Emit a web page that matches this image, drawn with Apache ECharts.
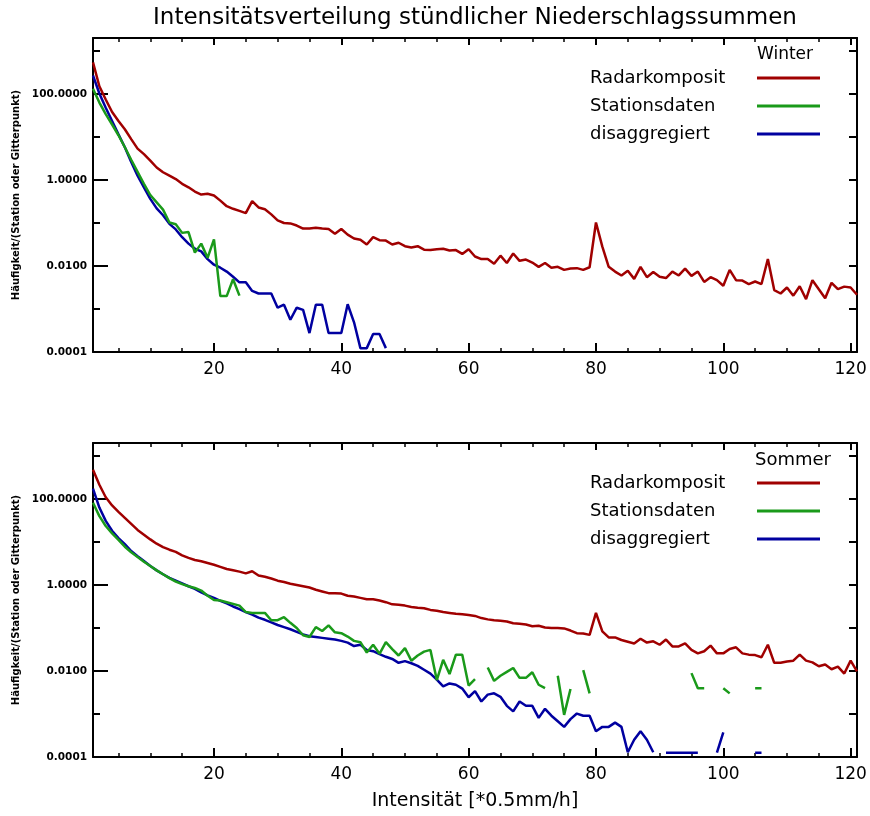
<!DOCTYPE html>
<html>
<head>
<meta charset="utf-8">
<title>Intensitätsverteilung stündlicher Niederschlagssummen</title>
<script src="https://cdn.jsdelivr.net/npm/echarts@6/dist/echarts.min.js"></script>
<style>
  html, body { margin: 0; padding: 0; background: #fff; }
  #main { width: 870px; height: 816px; }
</style>
</head>
<body>
<div id="main"></div>
<script>
var FONT = 'DejaVu Sans';

// Intensitätsklassen 1..121 (Einheit 0.5 mm/h)
var intensity = Array.from({ length: 121 }, function (_, i) { return i + 1; });
var xTicks = [20, 40, 60, 80, 100, 120];
var xMinorTicks = [5, 10, 15, 20, 25, 30, 35, 40, 45, 50, 55, 60, 65, 70, 75, 80, 85, 90, 95, 100, 105, 110, 115, 120];
var yTickLabels = [0.0001, 0.01, 1, 100];
var names = ['Radarkomposit', 'Stationsdaten', 'disaggregiert'];
var colors = ['#a00000', '#1a9a1a', '#0000a0'];

// Werte als log10(Häufigkeit); null = keine Werte (Lücke)
var winterRadar = [
  2.735, 2.18, 1.87, 1.58, 1.37, 1.18, 0.95, 0.73, 0.60, 0.45,
  0.29, 0.18, 0.10, 0.02, -0.09, -0.17, -0.27, -0.34, -0.32, -0.36,
  -0.48, -0.61, -0.67, -0.72, -0.77, -0.49, -0.64, -0.68, -0.80, -0.94,
  -1.00, -1.01, -1.06, -1.13, -1.13, -1.11, -1.13, -1.14, -1.25, -1.14,
  -1.27, -1.36, -1.39, -1.50, -1.33, -1.40, -1.41, -1.50, -1.46, -1.54,
  -1.57, -1.54, -1.62, -1.63, -1.61, -1.60, -1.64, -1.63, -1.72, -1.61,
  -1.78, -1.84, -1.84, -1.95, -1.76, -1.93, -1.71, -1.88, -1.85, -1.92,
  -2.02, -1.93, -2.04, -2.02, -2.09, -2.06, -2.05, -2.09, -2.03, -0.99,
  -1.55, -2.02, -2.13, -2.22, -2.11, -2.30, -2.02, -2.26, -2.14, -2.25,
  -2.28, -2.13, -2.22, -2.06, -2.23, -2.13, -2.37, -2.26, -2.33, -2.46,
  -2.09, -2.33, -2.34, -2.42, -2.36, -2.42, -1.84, -2.56, -2.64, -2.50,
  -2.69, -2.47, -2.77, -2.33, -2.54, -2.75, -2.39, -2.54, -2.48, -2.50, -2.67
];
var winterStation = [
  2.12, 1.80, 1.53, 1.29, 1.04, 0.76, 0.47, 0.19, -0.09, -0.35,
  -0.52, -0.69, -0.99, -1.03, -1.23, -1.21, -1.69, -1.48, -1.81, -1.38,
  -2.70, -2.70, -2.31, -2.69
];
var winterDisagg = [
  2.43, 2.01, 1.68, 1.37, 1.06, 0.76, 0.42, 0.10, -0.17, -0.44,
  -0.66, -0.82, -1.02, -1.15, -1.33, -1.48, -1.60, -1.66, -1.84, -1.97,
  -2.04, -2.13, -2.25, -2.38, -2.38, -2.58, -2.64, -2.64, -2.64, -2.97,
  -2.90, -3.25, -2.97, -3.02, -3.56, -2.90, -2.90, -3.56, -3.56, -3.56,
  -2.89, -3.31, -3.91, -3.91, -3.58, -3.58, -3.91
];
var summerRadar = [
  2.68, 2.33, 2.04, 1.85, 1.70, 1.56, 1.42, 1.28, 1.17, 1.06,
  0.96, 0.88, 0.82, 0.77, 0.69, 0.63, 0.58, 0.55, 0.51, 0.47,
  0.42, 0.37, 0.34, 0.31, 0.27, 0.32, 0.22, 0.19, 0.15, 0.10,
  0.07, 0.03, 0.00, -0.03, -0.06, -0.11, -0.15, -0.19, -0.19, -0.20,
  -0.25, -0.27, -0.30, -0.33, -0.33, -0.36, -0.40, -0.45, -0.46, -0.48,
  -0.51, -0.53, -0.54, -0.58, -0.60, -0.63, -0.65, -0.67, -0.68, -0.70,
  -0.72, -0.77, -0.80, -0.82, -0.83, -0.85, -0.89, -0.90, -0.92, -0.96,
  -0.95, -0.99, -1.00, -1.00, -1.01, -1.06, -1.12, -1.13, -1.16, -0.65,
  -1.08, -1.22, -1.22, -1.28, -1.32, -1.36, -1.25, -1.34, -1.31, -1.39,
  -1.27, -1.43, -1.43, -1.36, -1.51, -1.59, -1.54, -1.41, -1.59, -1.59,
  -1.49, -1.45, -1.59, -1.62, -1.63, -1.68, -1.39, -1.81, -1.81, -1.78,
  -1.76, -1.62, -1.76, -1.80, -1.89, -1.85, -1.96, -1.90, -2.06, -1.76, -2.01
];
var summerStation = [
  1.91, 1.60, 1.37, 1.20, 1.05, 0.89, 0.76, 0.65, 0.54, 0.44,
  0.34, 0.25, 0.16, 0.08, 0.02, -0.03, -0.07, -0.13, -0.25, -0.35,
  -0.36, -0.40, -0.44, -0.48, -0.63, -0.65, -0.65, -0.65, -0.82, -0.82,
  -0.75, -0.88, -1.00, -1.17, -1.21, -0.98, -1.07, -0.94, -1.10, -1.12,
  -1.20, -1.30, -1.33, -1.57, -1.39, -1.60, -1.33, -1.49, -1.64, -1.47,
  -1.76, -1.64, -1.55, -1.51, -2.21, -1.74, -2.07, -1.62, -1.62, -2.34,
  -2.19, null, -1.92, -2.23, -2.11, -2.02, -1.93, -2.16, -2.16, -2.03,
  -2.32, -2.40, null, -2.11, -3.02, -2.42, null, -1.98, -2.52, null,
  null, null, null, null, null, null, null, null, null, null,
  null, null, null, null, -2.05, -2.40, -2.40, null, null, -2.40,
  -2.52, null, null, null, -2.40, -2.40
];
var summerDisagg = [
  2.24, 1.80, 1.49, 1.26, 1.09, 0.95, 0.79, 0.67, 0.555, 0.44,
  0.34, 0.25, 0.165, 0.10, 0.035, -0.03, -0.09, -0.17, -0.24, -0.30,
  -0.37, -0.43, -0.50, -0.56, -0.63, -0.69, -0.76, -0.81, -0.87, -0.93,
  -0.98, -1.03, -1.09, -1.15, -1.19, -1.21, -1.23, -1.25, -1.27, -1.30,
  -1.34, -1.42, -1.39, -1.51, -1.54, -1.61, -1.67, -1.72, -1.81, -1.77,
  -1.82, -1.88, -1.97, -2.06, -2.20, -2.36, -2.29, -2.32, -2.41, -2.61,
  -2.47, -2.71, -2.55, -2.52, -2.60, -2.81, -2.94, -2.71, -2.81, -2.81,
  -3.09, -2.88, -3.04, -3.17, -3.30, -3.12, -2.99, -3.04, -3.04, -3.40,
  -3.30, -3.30, -3.20, -3.30, -3.89, -3.60, -3.40, -3.60, -3.89, null,
  -3.90, -3.90, -3.90, -3.90, -3.90, -3.90, null, null, -3.90, -3.43,
  null, null, null, null, -3.90, -3.90
];

function toPairs(logs) {
  return logs.map(function (e, i) {
    return [intensity[i], e == null ? '-' : Math.pow(10, e)];
  });
}

var myChart = echarts.init(document.getElementById('main'));

var grids = [
  { left: 93, top: 38, width: 764, height: 314 },
  { left: 93, top: 443, width: 764, height: 314 }
];

var xAxes = [];
var yAxes = [];
[0, 1].forEach(function (g) {
  var xb = { gridIndex: g, type: 'value', min: 1, max: 121, splitLine: { show: false } };
  xAxes.push(Object.assign({}, xb, {
    position: 'bottom',
    axisLine: { lineStyle: { color: '#000', width: 2 } },
    axisTick: { inside: true, length: 9, customValues: xTicks, lineStyle: { color: '#000', width: 2 } },
    axisLabel: { customValues: xTicks, margin: 9, color: '#000', fontSize: 17, fontFamily: FONT },
    name: g === 1 ? 'Intensität [*0.5mm/h]' : '',
    nameLocation: 'middle',
    nameGap: 35,
    nameTextStyle: { color: '#000', fontSize: 19, fontFamily: FONT }
  }));
  xAxes.push(Object.assign({}, xb, {
    position: 'bottom',
    axisLine: { show: false },
    axisTick: { inside: true, length: 4, customValues: xMinorTicks, lineStyle: { color: '#000', width: 1.5 } },
    axisLabel: { show: false }
  }));
  xAxes.push(Object.assign({}, xb, {
    position: 'top',
    axisLine: { lineStyle: { color: '#000', width: 2 } },
    axisTick: { inside: true, length: 7, customValues: xTicks, lineStyle: { color: '#000', width: 2 } },
    axisLabel: { show: false }
  }));
  xAxes.push(Object.assign({}, xb, {
    position: 'top',
    axisLine: { show: false },
    axisTick: { inside: true, length: 4, customValues: xMinorTicks, lineStyle: { color: '#000', width: 1.5 } },
    axisLabel: { show: false }
  }));

  var yb = { gridIndex: g, type: 'log', logBase: 10, min: 0.0001, max: 2000, splitNumber: 8, splitLine: { show: false } };
  yAxes.push(Object.assign({}, yb, {
    position: 'left',
    axisLine: { lineStyle: { color: '#000', width: 2 } },
    axisTick: { inside: true, length: 7, lineStyle: { color: '#000', width: 2 } },
    axisLabel: {
      margin: 6, color: '#000', fontSize: 10.5, fontWeight: 'bold', fontFamily: FONT,
      formatter: function (v) {
        var l = Math.log10(v), e = Math.round(l);
        return (Math.abs(l - e) < 1e-6 && e % 2 === 0) ? v.toFixed(4) : '';
      }
    },
    name: 'Häufigkeit/(Station oder Gitterpunkt)',
    nameLocation: 'middle',
    nameGap: 59,
    nameTextStyle: { color: '#000', fontSize: 10, fontWeight: 'bold', fontFamily: FONT }
  }));
  yAxes.push(Object.assign({}, yb, {
    position: 'left',
    axisLine: { show: false },
    axisTick: { inside: true, length: 15, customValues: yTickLabels, lineStyle: { color: '#000', width: 2 } },
    axisLabel: { show: false }
  }));
  yAxes.push(Object.assign({}, yb, {
    position: 'right',
    axisLine: { lineStyle: { color: '#000', width: 2 } },
    axisTick: { inside: true, length: 8, lineStyle: { color: '#000', width: 2 } },
    axisLabel: { show: false }
  }));
});

var panelData = [
  [winterRadar, winterStation, winterDisagg],
  [summerRadar, summerStation, summerDisagg]
];
var series = [];
// Reihenfolge: Radar, disaggregiert, Stationen (grün oben)
[0, 2, 1].forEach(function (k) {
  [0, 1].forEach(function (g) {
    series.push({
      type: 'line',
      name: names[k],
      xAxisIndex: g * 4,
      yAxisIndex: g * 3,
      data: toPairs(panelData[g][k]),
      showSymbol: false,
      symbol: 'none',
      connectNulls: false,
      silent: true,
      lineStyle: { color: colors[k], width: 2.5 },
      itemStyle: { color: colors[k] }
    });
  });
});

function legendAt(top) {
  return {
    orient: 'vertical', left: 585, top: top, align: 'right',
    icon: 'rect', itemWidth: 63, itemHeight: 3, itemGap: 10,
    selectedMode: false, data: names,
    formatter: '{t|{name}}',
    textStyle: { rich: { t: { width: 162, align: 'left', fontSize: 18, lineHeight: 20, fontFamily: FONT, color: '#000' } } }
  };
}

myChart.setOption({
  animation: false,
  backgroundColor: '#fff',
  grid: grids,
  xAxis: xAxes,
  yAxis: yAxes,
  legend: [legendAt(64), legendAt(469)],
  graphic: [
    { type: 'text', x: 475, y: 18, style: { text: 'Intensitätsverteilung stündlicher Niederschlagssummen', fontSize: 23, fontFamily: FONT, fill: '#000', align: 'center', verticalAlign: 'middle' } },
    { type: 'text', x: 757, y: 55, style: { text: 'Winter', fontSize: 17, fontFamily: FONT, fill: '#000', align: 'left', verticalAlign: 'middle' } },
    { type: 'text', x: 755, y: 460, style: { text: 'Sommer', fontSize: 18, fontFamily: FONT, fill: '#000', align: 'left', verticalAlign: 'middle' } }
  ],
  series: series
});
</script>
</body>
</html>
